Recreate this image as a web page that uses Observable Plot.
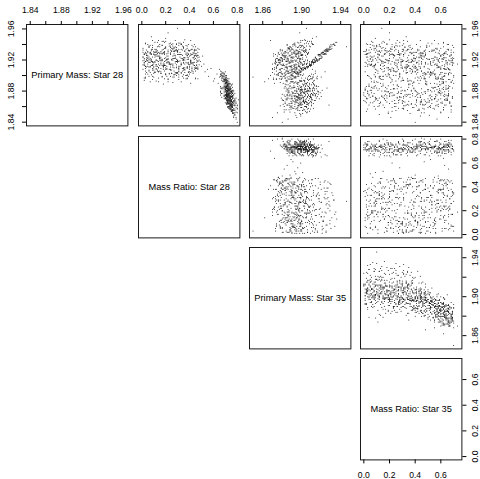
<!DOCTYPE html>
<html><head><meta charset="utf-8">
<script src="https://cdn.jsdelivr.net/npm/d3@7"></script>
<script src="https://cdn.jsdelivr.net/npm/@observablehq/plot@0.6"></script>
<style>
html,body{margin:0;padding:0;background:#fff;}
#chart{position:relative;width:480px;height:479px;overflow:hidden;font-family:"Liberation Sans",Arial,sans-serif;}
#chart svg{position:absolute;}
</style></head><body><div id="chart"></div>
<script>
// Each sample: [primary mass star 28 (x1000), mass ratio star 28 (x100), primary mass star 35 (x1000), mass ratio star 35 (x100)]
const samplesLowMass28 = [
[1871,74,1900,12],[1882,70,1900,57],[1862,74,1910,33],[1875,75,1882,64],[1889,70,1912,4],[1867,75,1889,45],[1878,69,1919,22],[1856,76,1882,68],[1884,73,1903,39],[1873,71,1896,1],
[1880,72,1907,50],[1865,78,1903,27],[1895,69,1890,61],[1870,69,1910,16],[1876,73,1888,42],[1860,74,1905,8],[1885,73,1893,55],[1868,72,1914,30],[1874,74,1892,66],[1887,69,1902,19],
[1852,77,1893,47],[1879,75,1917,3],[1872,70,1896,36],[1883,72,1897,59],[1864,73,1890,24],[1891,70,1911,11],[1869,75,1884,63],[1877,67,1910,29],[1859,75,1900,52],[1881,73,1899,6],
[1866,72,1903,41],[1886,74,1883,67],[1873,75,1920,14],[1893,69,1912,34],[1863,74,1881,58],[1878,76,1903,21],[1848,77,1899,44],[1875,71,1911,0],[1882,74,1899,62],[1871,70,1890,26],
[1888,72,1902,49],[1857,74,1902,9],[1880,72,1916,37],[1868,75,1881,65],[1874,71,1899,18],[1884,74,1900,54],[1861,75,1897,31],[1897,68,1915,5],[1870,72,1888,60],[1877,74,1893,43],
[1865,73,1908,13],[1890,71,1888,70],[1872,76,1897,28],[1879,71,1905,48],[1854,75,1908,2],[1885,70,1890,56],[1867,74,1901,35],[1876,73,1914,17],[1862,76,1887,64],[1883,68,1906,23],
[1873,72,1895,40],[1892,71,1903,10],[1869,73,1896,53],[1881,72,1921,32],[1858,74,1891,46],[1874,70,1904,7],[1878,73,1886,61],[1864,71,1912,25],[1887,72,1904,38],[1871,74,1879,69],
[1899,68,1909,15],[1866,76,1902,51],[1875,72,1898,20],[1860,73,1889,58],[1880,71,1909,3],[1872,73,1909,44],[1884,70,1887,66],[1868,77,1894,27],[1889,69,1896,49],[1850,78,1899,12],
[1877,72,1894,60],[1863,75,1906,34],[1882,73,1901,1],[1870,74,1884,55],[1894,70,1913,30],[1873,71,1890,63],[1879,75,1899,19],[1855,75,1896,42],[1886,72,1915,8],[1867,72,1892,57],
[1876,70,1911,36],[1861,75,1878,68],[1883,71,1908,24],[1869,74,1904,47],[1874,73,1894,14],[1891,71,1893,62],[1865,72,1910,5],[1880,74,1898,40],[1846,77,1895,21],[1875,73,1899,52],
[1871,73,1886,65],[1885,69,1899,29],[1859,76,1905,16],[1878,71,1900,45],[1868,73,1913,0],[1888,73,1884,59],[1873,75,1903,33],[1881,70,1907,11],[1864,72,1889,53],[1877,76,1896,38],
[1853,76,1882,60],[1883,74,1913,26],[1870,71,1897,50],[1874,72,1897,4],[1890,70,1908,43],[1866,73,1890,67],[1879,73,1917,18],[1862,74,1897,35],[1876,75,1897,56],[1872,71,1902,9],
[1893,72,1899,48],[1867,75,1909,22],[1882,70,1885,64],[1858,73,1895,31],[1875,73,1907,41],[1886,71,1904,2],[1869,72,1894,58],[1878,71,1902,27],[1863,76,1893,46],[1896,67,1911,13],
[1871,72,1885,69],[1881,73,1895,37],[1865,74,1900,7],[1884,72,1897,54],[1873,69,1906,20],[1856,74,1884,62],[1880,75,1908,32],[1874,73,1901,44],[1887,72,1898,15],[1868,73,1891,51],
[1877,74,1891,66],[1860,75,1903,25],[1883,70,1904,39],[1870,76,1908,10],[1889,72,1896,57],[1866,71,1899,30],[1876,73,1880,63],[1851,76,1901,19],[1879,72,1904,47],[1872,74,1906,5],
[1885,71,1912,35],[1864,73,1883,61],[1875,70,1900,23],[1869,75,1910,41],[1892,69,1889,68],[1861,74,1897,12],[1881,73,1893,52],[1873,72,1916,28],[1878,75,1891,59],[1857,75,1906,3],
[1883,72,1895,45],[1868,72,1902,17],[1874,76,1888,65],[1888,71,1910,26],[1865,74,1896,49],[1877,73,1913,8],[1870,70,1890,55],[1894,69,1903,36],[1862,74,1885,63],[1880,74,1905,14],
[1872,72,1898,42],[1844,79,1886,57],[1884,72,1908,1],[1867,73,1904,31],[1876,71,1885,66],[1859,76,1900,22],[1882,73,1903,50],[1871,74,1899,9],[1890,72,1905,38],[1866,72,1893,61],
[1879,70,1906,27],[1863,75,1898,44],[1874,74,1909,16],[1886,71,1888,58],[1855,77,1901,34],[1878,72,1902,6],[1869,73,1895,53],[1901,66,1912,20],[1873,74,1883,69],[1881,71,1900,40],
[1860,73,1904,11],[1877,76,1899,48],[1868,74,1907,24],[1887,73,1892,64],[1865,76,1903,2],[1875,72,1897,32],[1849,78,1894,51],[1883,69,1911,18],[1871,74,1896,56],[1880,72,1901,29],
[1898,65,1920,12],[1852,80,1875,60],[1905,67,1924,25],[1846,79,1870,66],[1884,66,1926,8],[1858,80,1912,30],[1890,64,1872,62],[1862,78,1928,4],[1900,70,1868,70],[1869,81,1880,45],
[1840,80,1880,40],
[1876,71,1904,33],[1893,68,1898,8],[1866,77,1895,50],[1880,75,1911,17],[1859,73,1890,62],[1887,70,1906,26],[1870,76,1900,3],[1898,67,1893,47],[1874,69,1914,38],[1862,78,1885,57],
[1883,74,1909,12],[1869,71,1902,65],[1891,72,1897,21],[1856,77,1903,43],[1878,73,1887,59],[1896,70,1916,6],[1864,75,1899,30],[1885,68,1892,53],[1872,72,1910,15],[1853,79,1888,68],
[1889,73,1905,36],[1867,74,1894,48],[1881,76,1913,1],[1900,68,1891,63],[1875,70,1907,24],[1861,76,1896,41],[1884,71,1884,66],[1870,73,1918,10],[1894,71,1902,31],[1857,74,1889,55],
[1879,77,1901,19],[1865,70,1906,44],[1888,72,1886,60],[1873,75,1908,7],[1902,69,1910,28],[1860,76,1893,51],[1882,70,1899,34],[1868,78,1881,64],[1890,74,1912,13],[1876,72,1897,46],
[1854,75,1904,22],[1886,69,1896,58],[1871,74,1915,2],[1895,70,1889,67],[1863,73,1901,37],[1880,76,1903,16],[1874,71,1887,62],[1858,77,1907,27],[1892,73,1894,49],[1869,75,1911,9],
[1884,72,1882,69],[1866,72,1905,32],[1878,74,1899,42],[1899,66,1907,18],[1861,78,1888,56],[1887,71,1913,4],[1873,73,1895,53],[1855,76,1898,25],[1890,70,1892,61],[1876,77,1909,35],
[1868,71,1902,11],[1883,75,1886,65],[1897,69,1904,40],[1864,74,1897,20],[1879,72,1890,58],[1852,78,1905,45],[1886,73,1917,14],[1871,70,1893,52],[1893,72,1900,29],[1866,76,1883,67],
[1881,73,1911,5],[1859,74,1896,39],[1888,75,1908,23],[1875,71,1885,60],[1903,68,1914,33],[1862,77,1900,47],[1885,70,1899,17],[1870,74,1890,64],[1891,71,1906,8],[1857,75,1894,43],
[1877,73,1915,26],[1895,69,1887,57],[1867,77,1904,1],[1882,72,1897,50],[1873,76,1909,31],[1860,72,1882,68],[1889,74,1901,15],[1864,73,1907,37],[1880,69,1893,55],[1898,71,1911,20],
[1872,75,1895,44],[1856,76,1887,62],[1884,73,1912,10],[1869,72,1899,28],[1892,70,1891,59],[1877,78,1903,3],[1863,71,1905,48],[1887,75,1888,66],[1874,72,1914,22],[1851,77,1898,36],
[1890,73,1904,52],[1866,75,1910,13],[1879,70,1886,63],[1900,67,1901,25],[1868,74,1896,41],[1885,76,1908,6],[1858,73,1892,54],[1881,71,1906,30],[1894,72,1884,69],[1871,77,1902,18],
[1862,74,1899,46],[1887,72,1915,9],[1875,69,1890,57],[1896,73,1909,34],[1865,76,1894,60],[1882,74,1904,21],[1859,72,1888,50],[1878,75,1912,0],[1891,71,1896,39],[1869,73,1885,65],
[1886,70,1907,27],[1855,78,1901,43],[1873,74,1893,56],[1897,70,1906,12],[1861,75,1910,32],[1883,73,1889,61],[1870,71,1898,16],[1889,76,1903,48],[1876,72,1917,4],[1864,77,1887,67],
[1893,69,1900,37],[1879,74,1895,53],[1853,76,1906,19],[1884,71,1891,64],[1872,73,1909,29],[1899,68,1897,44],[1867,75,1902,8],[1881,77,1886,59],[1860,73,1904,24],[1888,72,1913,35],
[1874,76,1893,51],[1895,71,1908,14],[1863,72,1899,40],[1880,75,1884,66],[1870,70,1905,2],[1890,73,1895,55],[1857,78,1909,31],[1885,74,1892,62],[1877,71,1910,20],[1866,74,1898,45],
[1895,69,1906,22],[1901,67,1899,48],[1898,70,1912,9],[1904,68,1893,61],[1893,71,1903,35],[1906,66,1914,16],[1897,68,1888,57],[1900,71,1908,3],[1894,67,1898,42],[1903,69,1891,66],
[1896,72,1910,27],[1902,66,1902,51],[1899,69,1916,13],[1905,70,1896,38],[1892,68,1885,64],[1908,65,1911,21],[1897,71,1900,45],[1901,69,1890,59],[1894,70,1907,31],[1903,67,1894,68],
[1872,67,1901,26],[1879,66,1895,41],[1866,79,1905,18],[1861,80,1890,52],[1884,67,1908,7],[1869,78,1898,63],[1875,66,1912,34],[1857,80,1896,47],[1880,66,1887,60],[1864,79,1903,12],
[1877,67,1906,29],[1870,78,1893,55],[1886,66,1900,4],[1859,79,1899,38],[1874,77,1885,66],[1883,67,1915,23],[1867,78,1902,44],[1878,66,1891,58],[1862,80,1907,15],[1871,79,1897,31]
];
const samplesRidge = [
[1916,23,1912,14],[1934,8,1925,30],[1909,35,1903,44],[1921,17,1918,5],[1904,41,1896,52],[1934,12,1929,21],[1918,29,1908,37],[1928,4,1921,11],[1901,38,1899,28],[1921,21,1915,46],
[1940,33,1932,3],[1910,10,1906,19],[1932,44,1923,33],[1898,26,1893,58],[1913,15,1910,8],[1934,31,1927,25],[1907,6,1901,41],[1927,39,1917,16],[1917,2,1913,35],[1943,19,1935,7],
[1909,46,1904,23],[1922,27,1920,40],[1907,13,1898,55],[1932,36,1926,12],[1918,9,1911,30],[1892,22,1889,61],[1927,42,1919,2],[1912,18,1907,47],[1940,5,1930,18],[1920,34,1916,26],
[1908,24,1902,9],[1930,11,1922,36],[1912,40,1909,15],[1902,3,1895,49],[1933,28,1928,4],[1923,16,1914,43],[1928,45,1924,22],[1911,7,1905,32],[1920,30,1918,10],[1908,20,1900,60],
[1938,14,1931,28],[1917,37,1912,1],[1907,25,1897,38],[1924,1,1921,44],[1914,43,1908,6],[1934,18,1925,34],[1919,32,1915,20],[1899,9,1891,56],[1932,39,1927,14],[1917,6,1910,27],
[1922,22,1919,39],[1909,47,1903,13],[1941,29,1933,31],[1917,11,1913,48],[1916,35,1906,2],[1928,15,1923,17],[1906,31,1899,45],[1918,3,1916,33],[1938,24,1929,8],[1917,41,1911,24],
[1898,17,1894,51],[1928,27,1920,29],[1912,12,1907,40],[1931,36,1924,0],[1917,21,1914,37],[1910,44,1901,19],[1932,8,1926,42],[1927,30,1917,11],[1913,19,1909,53],[1943,13,1936,16],
[1909,38,1904,30],[1930,5,1922,5],[1915,26,1912,26],[1903,33,1897,63],[1927,10,1918,21],[1934,42,1930,35],[1915,23,1908,45],[1920,16,1915,3],[1910,29,1902,57],[1927,2,1925,23],
[1896,37,1890,60],[1930,19,1921,13],[1914,46,1910,34],[1935,25,1928,9],[1915,14,1905,50],[1920,35,1917,38],[1939,7,1934,25],[1908,40,1900,42],[1919,20,1913,7],[1927,31,1923,31],
[1913,18,1908,25],[1927,33,1918,12],[1904,7,1899,47],[1935,26,1926,8],[1918,41,1914,33],[1909,12,1900,40],[1931,22,1927,19],[1897,35,1893,58],[1923,4,1914,28],[1940,29,1933,5],
[1911,45,1907,44],[1925,15,1920,15],[1906,27,1898,36],[1934,9,1929,22],[1916,38,1908,41],[1928,19,1924,3],[1901,31,1896,53],[1920,2,1916,30],[1937,43,1929,13],[1914,24,1909,39],
[1930,11,1922,27],[1908,36,1904,51],[1922,28,1918,9],[1903,16,1895,46],[1933,39,1926,34],[1917,6,1912,17],[1926,44,1919,24],[1899,21,1894,62],[1939,17,1934,10],[1912,32,1905,43],
[1929,3,1925,37],[1906,42,1900,21],[1921,25,1913,29],[1935,35,1931,14],[1915,10,1910,48],[1924,38,1920,6],[1902,5,1897,56],[1932,30,1924,31],[1919,47,1914,38],[1910,20,1906,18],
[1905,16,1899,40],[1918,29,1910,22],[1930,7,1921,9],[1911,38,1903,47],[1925,21,1918,14],[1934,44,1927,31],[1909,3,1900,36],[1922,33,1915,5],[1927,12,1922,26],[1915,41,1905,43],
[1932,25,1925,2],[1913,9,1908,29],[1920,46,1911,18],[1904,28,1898,53],[1929,15,1920,38],[1917,35,1912,11],[1936,20,1929,24],[1907,42,1902,33],[1924,5,1914,45],[1912,31,1906,8],
[1928,39,1923,20],[1919,13,1911,34],[1903,23,1896,48],[1933,34,1924,16],[1914,1,1909,3],[1926,47,1917,28],[1910,18,1904,41],[1931,30,1926,12],[1921,8,1912,37],[1916,43,1910,25]
];
const samplesHighMass28 = [
[1925,12,1897,8],[1914,33,1884,52],[1931,5,1902,21],[1919,41,1880,64],[1908,18,1890,37],[1936,27,1899,15],[1922,2,1886,45],[1911,38,1874,59],[1928,21,1906,3],[1917,9,1889,29],
[1940,44,1893,41],[1904,30,1870,67],[1923,15,1901,11],[1915,25,1881,56],[1932,40,1896,24],[1920,7,1878,69],[1910,35,1894,33],[1927,19,1890,48],[1913,46,1875,61],[1934,11,1908,6],
[1918,28,1887,39],[1906,3,1884,26],[1929,37,1883,58],[1921,22,1898,17],[1945,14,1904,31],[1916,42,1877,65],[1924,6,1892,2],[1909,31,1879,50],[1933,24,1895,43],[1919,16,1886,19],
[1926,45,1882,62],[1912,10,1897,35],[1938,34,1900,12],[1922,26,1874,68],[1902,20,1880,47],[1930,1,1903,27],[1917,39,1891,54],[1925,13,1883,60],[1914,29,1893,9],[1935,47,1887,38],
[1920,17,1876,66],[1907,36,1888,23],[1928,8,1899,44],[1915,23,1885,57],[1942,32,1910,14],[1923,43,1879,63],[1911,4,1895,30],[1931,27,1888,51],[1918,14,1902,4],[1926,38,1881,68],
[1905,11,1886,40],[1937,20,1897,22],[1921,35,1877,61],[1913,2,1890,16],[1929,44,1892,46],[1916,28,1873,70],[1933,17,1905,10],[1924,9,1883,55],[1910,40,1889,32],[1927,24,1894,28],
[1919,5,1878,64],[1939,37,1901,7],[1922,19,1885,49],[1908,31,1891,20],[1932,13,1880,59],[1917,46,1896,36],[1925,22,1871,67],[1912,7,1898,1],[1934,33,1887,42],[1920,15,1893,25],
[1928,41,1876,62],[1903,25,1882,53],[1930,3,1899,18],[1918,30,1884,45],[1944,18,1906,34],[1923,36,1879,57],[1914,12,1892,13],[1926,27,1888,39],[1909,45,1874,66],[1936,6,1903,5],
[1921,21,1886,51],[1915,39,1894,24],[1929,10,1881,63],[1906,34,1890,31],[1931,16,1897,47],[1917,43,1877,69],[1924,1,1895,11],[1911,26,1883,58],[1938,38,1900,26],[1920,12,1889,40],
[1927,32,1873,65],[1913,20,1901,8],[1933,46,1885,54],[1919,8,1891,19],[1904,29,1878,60],[1928,17,1896,37],[1916,42,1887,48],[1941,23,1907,2],[1922,5,1880,61],[1910,36,1893,29],
[1930,14,1884,56],[1918,31,1898,15],[1925,44,1875,67],[1907,9,1890,42],[1935,27,1902,21],[1921,39,1882,50],[1914,18,1895,6],[1929,24,1879,64],[1912,3,1888,33],[1937,35,1894,44],
[1920,21,1877,58],[1926,11,1900,12],[1905,40,1886,38],[1932,30,1892,27],[1917,7,1874,68],[1923,47,1889,23],[1915,16,1899,4],[1931,25,1883,53],[1909,34,1880,62],[1928,13,1897,16],
[1919,41,1891,43],[1948,20,1911,9],[1924,28,1885,47],[1911,6,1893,34],[1934,37,1878,66],[1922,15,1896,20],[1908,23,1872,63],[1930,43,1890,36],[1916,2,1887,52],[1927,32,1901,1],
[1913,19,1882,57],[1939,9,1898,30],[1920,36,1876,69],[1925,26,1894,24],[1906,45,1884,45],[1933,12,1889,55],[1918,22,1903,14],[1926,38,1880,60],[1910,14,1895,39],[1936,29,1886,49],
[1921,4,1899,7],[1914,33,1875,65],[1929,18,1892,32],[1917,44,1888,41],[1903,10,1879,54],[1932,27,1904,18],[1923,39,1883,62],[1912,21,1897,26],[1928,7,1890,46],[1919,30,1873,67],
[1912,50,1888,40],[1905,53,1893,15],[1918,49,1880,58],[1899,56,1896,28],[1909,58,1885,63],[1915,52,1901,9],[1896,61,1891,47],[1920,48,1876,35],[1902,63,1889,52],[1893,60,1899,22],
[1908,55,1882,66],[1925,51,1894,5],[1955,22,1898,20],[1950,8,1915,33],[1892,14,1862,62],[1896,38,1866,48],[1945,41,1868,55],[1898,3,1850,70],[1937,28,1946,10],[1915,19,1870,73],
[1961,30,1905,14],
[1910,14,1885,22],[1932,29,1902,47],[1899,6,1878,9],[1925,40,1897,31],[1916,21,1872,64],[1941,3,1911,18],[1904,33,1889,52],[1928,17,1893,2],[1913,44,1880,57],[1936,9,1896,36],
[1920,26,1904,13],[1897,38,1871,61],[1930,12,1886,44],[1908,1,1893,27],[1923,35,1879,69],[1944,20,1908,6],[1911,47,1884,40],[1926,5,1901,23],[1902,28,1876,55],[1934,42,1891,65],
[1918,11,1890,30],[1939,31,1899,49],[1906,19,1874,11],[1922,45,1896,59],[1914,2,1881,33],[1929,24,1907,4],[1900,37,1883,46],[1937,15,1888,62],[1917,30,1899,16],[1927,8,1877,68],
[1905,43,1892,25],[1933,22,1894,53],[1919,4,1906,38],[1946,36,1903,20],[1909,16,1870,60],[1924,48,1889,7],[1898,10,1885,42],[1931,27,1883,64],[1915,39,1897,29],[1921,6,1880,51],
[1940,33,1912,12],[1907,24,1878,67],[1926,41,1900,35],[1912,13,1887,3],[1935,1,1890,56],[1903,30,1894,19],[1928,46,1871,63],[1916,18,1903,45],[1943,11,1896,28],[1920,35,1884,58],
[1895,22,1879,15],[1930,7,1892,70],[1911,42,1898,34],[1938,26,1905,10],[1918,3,1873,61],[1924,32,1891,41],[1906,15,1886,24],[1932,44,1878,54],[1914,9,1901,5],[1929,38,1897,48],
[1901,20,1875,66],[1937,13,1909,32],[1921,29,1882,57],[1908,47,1895,14],[1926,4,1888,39],[1942,24,1893,62],[1915,36,1905,21],[1904,11,1877,50],[1933,41,1900,8],[1919,17,1880,68],
[1910,31,1890,26],[1928,2,1906,43],[1896,45,1874,60],[1935,19,1887,17],[1922,27,1899,53],[1913,8,1893,35],[1940,39,1885,65],[1905,14,1892,1],[1925,46,1883,46],[1917,23,1876,59],
[1931,10,1904,30],[1899,34,1882,12],[1945,28,1901,44],[1912,5,1889,63],[1927,37,1895,22],[1908,21,1870,67],[1934,48,1898,37],[1920,12,1886,55],[1914,40,1902,9],[1938,6,1891,51],
[1903,25,1887,28],[1923,43,1878,64],[1916,16,1897,19],[1930,30,1907,40],[1897,2,1880,56],[1936,35,1889,70],[1918,19,1894,6],[1926,47,1884,48],[1909,9,1899,33],[1941,26,1903,58],
[1921,38,1873,62],[1906,13,1890,23],[1929,22,1896,45],[1913,44,1881,13],[1933,4,1888,66],[1900,29,1876,52],[1924,15,1905,3],[1939,42,1893,36],[1911,24,1885,60],[1927,11,1900,27],
[1915,33,1878,69],[1944,17,1910,15],[1902,40,1884,41],[1922,7,1891,54],[1932,28,1895,20],[1910,46,1872,65],[1919,1,1898,31],[1935,20,1887,57],[1907,35,1894,10],[1925,14,1881,47],
[1898,27,1889,61],[1937,45,1902,24],[1917,10,1899,42],[1930,32,1876,68],[1912,18,1892,7],[1942,3,1897,50],[1904,39,1883,34],[1920,25,1906,18],[1928,43,1886,59],[1914,12,1879,63],
[1934,29,1904,2],[1901,8,1874,55],[1923,36,1890,39],[1909,21,1895,16],[1940,15,1891,66],[1918,47,1885,29],[1926,4,1900,44],[1895,31,1871,62],[1931,19,1898,11],[1916,41,1888,52],
[1938,23,1908,35],[1906,6,1893,21],[1922,34,1875,70],[1929,13,1894,46],[1911,38,1884,58],[1945,9,1899,26],[1913,26,1897,5],[1927,42,1880,61],[1903,16,1886,37],[1933,1,1901,48],
[1919,30,1889,14],[1908,44,1877,64],[1936,24,1896,32],[1924,11,1882,56],[1900,37,1890,23],[1930,18,1905,41],[1915,5,1873,67],[1941,33,1892,53],[1910,27,1899,8],[1925,46,1887,60],
[1897,14,1883,43],[1932,40,1903,17],[1917,22,1878,65],[1928,7,1895,28],[1905,31,1891,50],[1939,17,1885,69],[1921,44,1901,12],[1912,3,1889,38],[1934,26,1890,57],[1899,39,1879,4],
[1923,20,1897,34],[1943,35,1899,62],[1907,10,1885,19],[1926,28,1904,45],[1914,48,1876,55],[1931,12,1893,1],[1902,23,1872,66],[1920,41,1895,27],[1937,6,1888,49],[1916,33,1900,15],
[1929,16,1882,63],[1909,42,1892,36],[1940,25,1911,22],[1918,8,1884,52],[1904,36,1896,9],[1933,45,1880,68],[1922,15,1898,40],[1911,29,1874,58],[1927,2,1906,31],[1896,19,1886,47],
[1935,38,1886,60],[1915,24,1903,6],[1924,44,1890,43],[1908,12,1878,64],[1942,31,1905,25],[1919,5,1894,54],[1901,27,1883,17],[1930,47,1897,39],[1913,17,1875,69],[1926,34,1899,20],
[1893,12,1884,25],[1901,35,1890,8],[1896,22,1879,56],[1904,4,1893,33],[1890,41,1881,48],[1899,17,1887,15],[1903,29,1876,64],[1892,7,1891,39],[1897,45,1883,21],[1905,14,1895,52],
[1891,26,1878,68],[1900,38,1889,3],[1894,2,1885,44],[1902,20,1880,60],[1898,31,1892,28],[1895,9,1874,66],[1903,43,1886,11],[1889,18,1883,35],[1901,27,1897,19],[1896,47,1877,58],
[1904,11,1888,42],[1892,33,1890,6],[1899,24,1881,63],[1897,3,1894,30],[1905,39,1879,54]
];

const names = ["Primary Mass: Star 28", "Mass Ratio: Star 28", "Primary Mass: Star 35", "Mass Ratio: Star 35"];
const keys = ["p28", "q28", "p35", "q35"];
const domains = [[1.8352, 1.9657], [-0.028, 0.822], [1.8464, 1.9505], [-0.026, 0.764]];
const tickValues = [
  [1.84, 1.86, 1.88, 1.90, 1.92, 1.94, 1.96],
  [0, 0.2, 0.4, 0.6, 0.8],
  [1.86, 1.88, 1.90, 1.92, 1.94],
  [0, 0.2, 0.4, 0.6]
];
const tickLabels = [
  ["1.84", "", "1.88", "", "1.92", "", "1.96"],
  ["0.0", "0.2", "0.4", "0.6", "0.8"],
  ["1.86", "", "1.90", "", "1.94"],
  ["0.0", "0.2", "0.4", "0.6"]
];

const data = [...samplesLowMass28, ...samplesRidge, ...samplesHighMass28].map(r => ({
  p28: r[0] / 1000, q28: r[1] / 100, p35: r[2] / 1000, q35: r[3] / 100
}));

const SIZE = 101.4, PITCH = 111.3, LEFT0 = 26.3, TOP0 = 24.3, M = 30;
const FS = 8.6;
const PAD = 8;
const chart = document.getElementById("chart");

function fmt(v) {
  const m = new Map(tickValues[v].map((t, i) => [t, tickLabels[v][i]]));
  return d => m.get(d) ?? "";
}

for (let i = 0; i < 4; i++) {
  for (let j = 0; j < 4; j++) {
    if (j < i) continue;
    const marks = [Plot.frame({stroke: "#1a1a1a"})];
    if (i === j) {
      marks.push(Plot.text([names[i]], {frameAnchor: "middle", fontSize: 9.3, fill: "#000"}));
    } else {
      marks.push(Plot.dot(data, {x: keys[j], y: keys[i], r: 0.5, fill: "#111", stroke: null}));
    }
    if (i === 0) {
      marks.push(Plot.axisX(tickValues[j], {anchor: "top", tickSize: 4, tickPadding: PAD - 0.5, tickFormat: fmt(j), fontSize: FS, label: null}));
    }
    if (i === 0 && j === 0) {
      marks.push(Plot.axisY(tickValues[i], {anchor: "left", tickSize: 4, tickPadding: PAD, tickRotate: -90, textAnchor: "middle", lineAnchor: "bottom", tickFormat: fmt(i), fontSize: FS, label: null}));
    }
    if (j === 3) {
      marks.push(Plot.axisY(tickValues[i], {anchor: "right", tickSize: 4, tickPadding: 5.5, tickRotate: -90, textAnchor: "middle", lineAnchor: "top", tickFormat: fmt(i), fontSize: FS, label: null}));
    }
    if (i === 3 && j === 3) {
      marks.push(Plot.axisX(tickValues[j], {anchor: "bottom", tickSize: 4, tickPadding: PAD, tickFormat: fmt(j), fontSize: FS, label: null}));
    }
    const svg = Plot.plot({
      width: SIZE + 2 * M,
      height: SIZE + 2 * M,
      marginTop: M, marginBottom: M, marginLeft: M, marginRight: M,
      x: {domain: domains[j], axis: null},
      y: {domain: domains[i], axis: null},
      style: {background: "none", color: "#000", fontFamily: "'Liberation Sans', Arial, sans-serif", overflow: "visible"},
      marks
    });
    svg.style.left = (LEFT0 + j * PITCH - M) + "px";
    svg.style.top = (TOP0 + i * PITCH - M) + "px";
    chart.appendChild(svg);
  }
}
</script></body></html>
